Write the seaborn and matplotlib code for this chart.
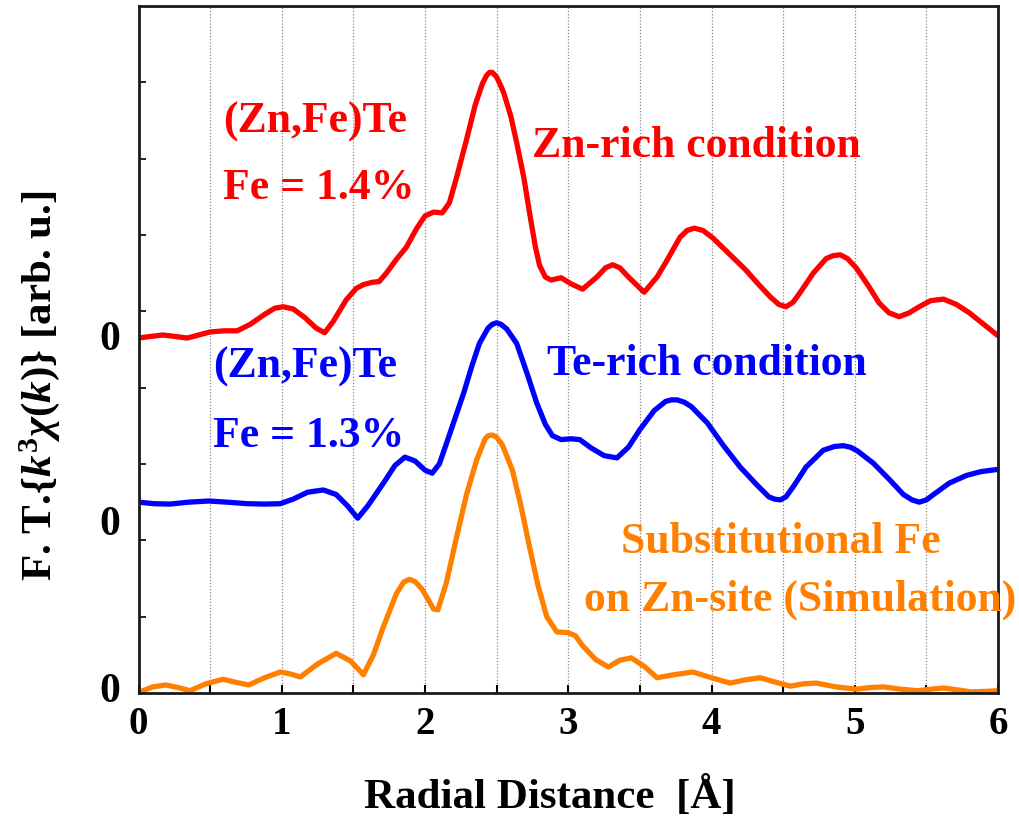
import numpy as np
import pandas as pd
import matplotlib
matplotlib.use("Agg")
import matplotlib.pyplot as plt
import seaborn as sns

# Fourier-transformed EXAFS spectra, vertically offset for display
r_zn_rich = [0.00, 0.08, 0.17, 0.26, 0.34, 0.42, 0.50, 0.60, 0.69, 0.78, 0.88, 0.95,
             1.01, 1.08, 1.16, 1.24, 1.30, 1.36, 1.45, 1.52, 1.57, 1.63, 1.68, 1.73,
             1.80, 1.87, 1.94, 2.00, 2.06, 2.12, 2.17, 2.22, 2.29, 2.35, 2.40, 2.43,
             2.45, 2.47, 2.50, 2.53, 2.55, 2.60, 2.64, 2.69, 2.73, 2.77, 2.80, 2.84,
             2.88, 2.95, 3.02, 3.10, 3.20, 3.26, 3.31, 3.36, 3.42, 3.53, 3.62, 3.69,
             3.78, 3.83, 3.88, 3.94, 4.01, 4.12, 4.24, 4.33, 4.41, 4.47, 4.52, 4.57,
             4.62, 4.71, 4.80, 4.85, 4.90, 4.95, 5.01, 5.10, 5.17, 5.24, 5.31, 5.38,
             5.45, 5.53, 5.62, 5.71, 5.80, 5.90, 6.00]
ft_zn_rich = [4.65, 4.67, 4.69, 4.67, 4.65, 4.69, 4.73, 4.745, 4.745, 4.83, 4.96, 5.04,
              5.06, 5.03, 4.92, 4.78, 4.72, 4.87, 5.15, 5.30, 5.35, 5.38, 5.39, 5.50,
              5.68, 5.84, 6.08, 6.25, 6.30, 6.29, 6.42, 6.75, 7.25, 7.70, 7.98, 8.09,
              8.13, 8.13, 8.07, 7.95, 7.86, 7.55, 7.21, 6.75, 6.29, 5.85, 5.60, 5.45,
              5.41, 5.44, 5.36, 5.29, 5.45, 5.57, 5.61, 5.57, 5.45, 5.25, 5.45, 5.67,
              5.97, 6.06, 6.09, 6.06, 5.96, 5.76, 5.54, 5.35, 5.19, 5.09, 5.06, 5.12,
              5.25, 5.50, 5.69, 5.73, 5.74, 5.69, 5.57, 5.32, 5.11, 4.98, 4.93, 4.98,
              5.06, 5.14, 5.16, 5.09, 4.98, 4.83, 4.68]

r_te_rich = [0.00, 0.11, 0.22, 0.35, 0.49, 0.62, 0.76, 0.88, 0.99, 1.08, 1.18, 1.29,
             1.38, 1.46, 1.53, 1.60, 1.71, 1.79, 1.86, 1.93, 2.00, 2.05, 2.10, 2.15,
             2.21, 2.27, 2.33, 2.38, 2.44, 2.47, 2.50, 2.53, 2.57, 2.64, 2.71, 2.78,
             2.84, 2.89, 2.95, 3.02, 3.08, 3.16, 3.25, 3.34, 3.42, 3.50, 3.60, 3.68,
             3.72, 3.76, 3.81, 3.86, 3.97, 4.08, 4.20, 4.32, 4.40, 4.44, 4.48, 4.52,
             4.57, 4.66, 4.78, 4.86, 4.92, 4.97, 5.02, 5.13, 5.24, 5.34, 5.40, 5.45,
             5.50, 5.55, 5.66, 5.78, 5.88, 6.00]
ft_te_rich = [2.50, 2.48, 2.475, 2.50, 2.515, 2.50, 2.48, 2.475, 2.48, 2.54, 2.63, 2.66,
              2.60, 2.45, 2.29, 2.45, 2.75, 2.98, 3.09, 3.04, 2.92, 2.88, 3.00, 3.27,
              3.60, 3.93, 4.30, 4.58, 4.78, 4.83, 4.85, 4.83, 4.77, 4.58, 4.20, 3.80,
              3.52, 3.37, 3.32, 3.33, 3.32, 3.21, 3.11, 3.08, 3.22, 3.45, 3.70, 3.82,
              3.84, 3.84, 3.81, 3.75, 3.54, 3.25, 2.96, 2.72, 2.57, 2.54, 2.53, 2.57,
              2.70, 2.96, 3.18, 3.23, 3.24, 3.22, 3.17, 3.01, 2.80, 2.60, 2.53, 2.50,
              2.53, 2.60, 2.75, 2.85, 2.90, 2.93]

r_sim = [0.03, 0.10, 0.19, 0.28, 0.36, 0.47, 0.59, 0.68, 0.77, 0.88, 0.99, 1.06,
         1.13, 1.25, 1.38, 1.48, 1.57, 1.64, 1.71, 1.80, 1.85, 1.89, 1.93, 1.98,
         2.06, 2.09, 2.15, 2.22, 2.29, 2.36, 2.42, 2.44, 2.47, 2.50, 2.54, 2.61,
         2.67, 2.73, 2.79, 2.85, 2.92, 3.00, 3.05, 3.10, 3.19, 3.28, 3.36, 3.44,
         3.53, 3.62, 3.74, 3.87, 4.00, 4.13, 4.23, 4.34, 4.45, 4.55, 4.64, 4.73,
         4.87, 5.01, 5.10, 5.20, 5.32, 5.44, 5.53, 5.62, 5.72, 5.81, 5.90, 6.00]
ft_sim = [0.03, 0.08, 0.105, 0.07, 0.03, 0.12, 0.18, 0.14, 0.105, 0.20, 0.275, 0.25,
          0.21, 0.38, 0.52, 0.42, 0.24, 0.50, 0.87, 1.30, 1.45, 1.49, 1.46, 1.36,
          1.10, 1.09, 1.45, 2.04, 2.60, 3.05, 3.33, 3.37, 3.38, 3.35, 3.25, 2.92,
          2.45, 1.91, 1.40, 1.00, 0.80, 0.79, 0.75, 0.62, 0.44, 0.34, 0.43, 0.46,
          0.35, 0.20, 0.24, 0.275, 0.20, 0.13, 0.17, 0.20, 0.14, 0.09, 0.12, 0.13,
          0.08, 0.05, 0.07, 0.08, 0.05, 0.03, 0.05, 0.065, 0.04, 0.015, 0.02, 0.03]

x_ticks = [0, 1, 2, 3, 4, 5, 6]

RED = "#ff0000"
BLUE = "#0000ff"
ORANGE = "#ff8000"

sns.set_style("ticks")
plt.rcParams["font.family"] = ["Liberation Serif", "DejaVu Serif"]
plt.rcParams["font.weight"] = "bold"
plt.rcParams["text.color"] = "black"
plt.rcParams["xtick.color"] = "black"
plt.rcParams["ytick.color"] = "black"
plt.rcParams["mathtext.fontset"] = "custom"
plt.rcParams["mathtext.rm"] = "Liberation Serif:bold"
plt.rcParams["mathtext.bf"] = "Liberation Serif:bold"
plt.rcParams["mathtext.it"] = "Liberation Serif:italic:bold"

fig = plt.figure(figsize=(10.19, 8.23), dpi=100)
ax = fig.add_axes([138.5 / 1019, 130 / 823, (998 - 138.5) / 1019, (693 - 6) / 823])

for r, ft, c in [(r_zn_rich, ft_zn_rich, RED),
                 (r_te_rich, ft_te_rich, BLUE),
                 (r_sim, ft_sim, ORANGE)]:
    df = pd.DataFrame({"r": r, "ft": ft})
    sns.lineplot(data=df, x="r", y="ft", color=c, lw=3.8, estimator=None,
                 sort=False, ax=ax, solid_capstyle="round",
                 solid_joinstyle="round")

ax.set_xlim(0, 6)
ax.set_ylim(0, 9)
ax.set_xticks(x_ticks)
ax.set_xticks(np.arange(0.5, 6, 1.0), minor=True)
ax.set_yticks(np.arange(1, 9))
ax.set_yticklabels([])
ax.set_xlabel("")
ax.set_ylabel("")

# dotted vertical guides every 0.5 Å
for gx in np.arange(0.5, 6, 0.5):
    ax.axvline(gx, color="#888888", lw=0.9, ls=(0, (1, 1.5)), zorder=0)

ax.tick_params(axis="x", which="both", direction="in", length=6, width=1.5,
               pad=9, labelsize=28, top=False)
ax.tick_params(axis="y", which="both", direction="in", length=5, width=1.2,
               right=False)
for lab in ax.get_xticklabels():
    lab.set_fontweight("bold")
for s in ax.spines.values():
    s.set_linewidth(2.0)
    s.set_color("#1a1a1a")

# zero markers for each offset spectrum
for y0 in [4.49, 2.07, -0.12]:
    ax.text(-0.2, y0, "0", ha="center", va="baseline", fontsize=30,
            fontweight="bold", clip_on=False)

fs = 31.5
ax.text(0.59, 7.337, "(Zn,Fe)Te", color=RED, fontsize=fs, fontweight="bold")
ax.text(0.59, 6.472, "Fe = 1.4%", color=RED, fontsize=fs, fontweight="bold")
ax.text(2.746, 7.022, "Zn-rich condition", color=RED, fontsize=fs, fontweight="bold")

ax.text(0.52, 4.127, "(Zn,Fe)Te", color=BLUE, fontsize=fs, fontweight="bold")
ax.text(0.52, 3.223, "Fe = 1.3%", color=BLUE, fontsize=fs, fontweight="bold")
ax.text(2.85, 4.166, "Te-rich condition", color=BLUE, fontsize=fs, fontweight="bold")

ax.text(4.484, 1.834, "Substitutional Fe", color=ORANGE, fontsize=fs,
        fontweight="bold", ha="center", clip_on=False)
ax.text(4.617, 1.087, "on Zn-site (Simulation)", color=ORANGE, fontsize=fs,
        fontweight="bold", ha="center", clip_on=False)

fig.text(550 / 1019, 1 - 797 / 823, "Radial Distance  [Å]", ha="center",
         va="center", fontsize=31, fontweight="bold")
fig.text(40 / 1019, 1 - 386 / 823, r"F. T.$\{k^3\chi(k)\}$ [arb. u.]",
         rotation=90, ha="center", va="center", fontsize=31, fontweight="bold")

fig.savefig("out.png", dpi=100)
